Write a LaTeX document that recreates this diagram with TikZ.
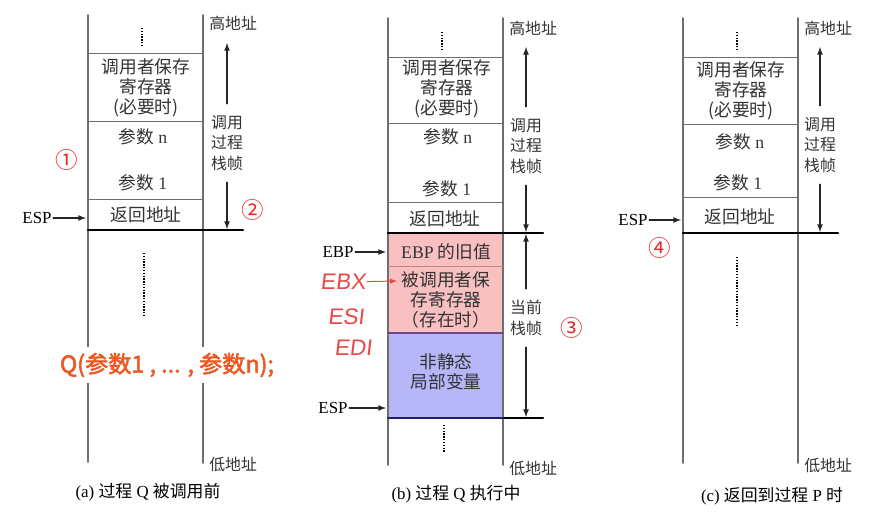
\documentclass[tikz,border=0pt]{standalone}
\usepackage{fontspec}
\setmainfont{Liberation Serif}
\newfontfamily\cjk{Noto Sans CJK SC}
\newfontfamily\cjkbold{Noto Sans CJK SC}[FakeBold=2.5]
\newfontfamily\handfont{Liberation Sans}[FakeSlant=0.12]
\usetikzlibrary{arrows}
\definecolor{framegray}{RGB}{110,110,110}
\definecolor{oldebp}{RGB}{248,192,192}
\definecolor{pinkline}{RGB}{200,130,130}
\definecolor{locvar}{RGB}{182,182,248}
\definecolor{purpline}{RGB}{110,70,140}
\definecolor{navyline}{RGB}{30,30,110}
\definecolor{qorange}{RGB}{238,88,36}
\definecolor{numred}{RGB}{228,40,40}

\begin{document}
\begin{tikzpicture}[line cap=round,line join=round,>=latex,x=0.025cm,y=-0.025cm,
  wall/.style={color=framegray,line width=1.1pt},
  cellline/.style={color=framegray,line width=0.7pt},
  thickline/.style={line width=1.8pt},
  dotline/.style={line cap=butt,line width=0.9pt,dash pattern=on 1pt off 1pt},
  arr/.style={->,line width=0.9pt,black!85},
  txt/.style={font=\cjk\fontsize{12.6}{14.2}\selectfont,inner sep=0pt,align=center,text=black!80},
  lbl/.style={font=\cjk\fontsize{11.3}{14.6}\selectfont,inner sep=0pt,align=center,text=black!80},
  frm/.style={lbl,inner xsep=0pt,inner ysep=8pt},
  reg/.style={font=\fontsize{12}{14}\selectfont,inner sep=1pt},
  circnum/.style={font=\cjk\fontsize{16}{18}\selectfont,text=numred,inner sep=0pt},
  captxt/.style={font=\fontsize{12}{14}\selectfont,inner sep=0pt},
  hand/.style={font=\handfont\fontsize{16}{18}\selectfont,text=numred!85,inner sep=1pt}]
  \useasboundingbox (0,0) rectangle (894,516);

  % (a)
  \draw [wall] (88,15) -- (88,462);
  \draw [wall] (203,15) -- (203,463);
  \draw [cellline] (88,53) -- (203,53);
  \draw [cellline] (88,121) -- (203,121);
  \draw [cellline] (88,199) -- (203,199);
  \draw [thickline] (88,230) -- (243,230);
  \draw [dotline] (142,28) -- (142,47);
  \draw [dotline] (144,253) -- (144,315);
  \node [txt] (a-save) at (146,88) {调用者保存\\寄存器\\(必要时)};
  \node [txt] (a-argn) at (143,137) {参数 {\rmfamily n}};
  \node [txt] (a-arg1) at (143,183) {参数 {\rmfamily 1}};
  \node [txt] (a-ret) at (146,215) {返回地址};
  \node [lbl,anchor=west] (a-hi) at (209,23) {高地址};
  \node [lbl,anchor=west] (a-lo) at (209,464) {低地址};
  \node [frm] (a-frame) at (227,143) {调用\\过程\\栈帧};
  \coordinate (a-up) at (227,43);
  \coordinate (a-down) at (227,229);
  \draw [arr] (a-frame) -- (a-up);
  \draw [arr] (a-frame) -- (a-down);
  \node [reg] (a-esp) at (37,218) {ESP};
  \coordinate (a-espto) at (86,218);
  \draw [arr] (a-esp) -- (a-espto);
  \node [circnum] (a-one) at (67,160) {①};
  \node [circnum] (a-two) at (253,210) {②};
  \node [font=\cjkbold\fontsize{16.5}{18}\selectfont,text=qorange,fill=white,
    inner xsep=2pt,minimum height=0.9cm] (a-call) at (167,365) {Q(参数1 , ... , 参数n);};
  \node [captxt] (a-cap) at (148,492) {(a) {\cjk 过程} Q {\cjk 被调用前}};

  % (b)
  \fill [oldebp] (388,233) rectangle (503,333);
  \fill [locvar] (388,333) rectangle (503,418);
  \draw [wall] (388,18) -- (388,465);
  \draw [wall] (503,18) -- (503,465);
  \draw [cellline] (388,57) -- (503,57);
  \draw [cellline] (388,123) -- (503,123);
  \draw [cellline] (388,202) -- (503,202);
  \draw [thickline] (388,233) -- (543,233);
  \draw [cellline,color=pinkline] (388,266) -- (503,266);
  \draw [color=purpline,line width=1pt] (388,333) -- (503,333);
  \draw [thickline] (503,418) -- (543,418);
  \draw [thickline,color=navyline] (388,418) -- (503,418);
  \draw [dotline] (442,32) -- (442,50);
  \draw [dotline] (444,425) -- (444,453);
  \node [txt] (b-save) at (447,89) {调用者保存\\寄存器\\(必要时)};
  \node [txt] (b-argn) at (448,137) {参数 {\rmfamily n}};
  \node [txt] (b-arg1) at (447,189) {参数 {\rmfamily 1}};
  \node [txt] (b-ret) at (445,219) {返回地址};
  \node [txt] (b-old) at (446,252) {{\rmfamily EBP} 的旧值};
  \node [txt] (b-callee) at (446,300) {被调用者保\\存寄存器\\（存在时）};
  \node [txt] (b-local) at (446,372) {非静态\\局部变量};
  \node [lbl,anchor=west] (b-hi) at (509,28) {高地址};
  \node [lbl,anchor=west] (b-lo) at (509,468) {低地址};
  \node [frm] (b-frame) at (526,146) {调用\\过程\\栈帧};
  \coordinate (b-up) at (526,47);
  \coordinate (b-down) at (526,232);
  \draw [arr] (b-frame) -- (b-up);
  \draw [arr] (b-frame) -- (b-down);
  \node [frm] (b-cur) at (526,318) {当前\\栈帧};
  \coordinate (b-curup) at (526,234);
  \coordinate (b-curdown) at (526,417);
  \draw [arr] (b-cur) -- (b-curup);
  \draw [arr] (b-cur) -- (b-curdown);
  \node [reg] (b-ebp) at (338,252) {EBP};
  \coordinate (b-ebpto) at (386,252);
  \draw [arr] (b-ebp) -- (b-ebpto);
  \node [reg] (b-esp) at (333,408) {ESP};
  \coordinate (b-espto) at (386,408);
  \draw [arr] (b-esp) -- (b-espto);
  \node [circnum] (b-three) at (572,328) {③};
  \node [hand] (b-ebx) at (343,282) {EBX};
  \coordinate (b-ebxto) at (397,281);
  \draw [->,color=numred!85,line width=0.7pt] (b-ebx) -- (b-ebxto);
  \node [hand] (b-esi) at (346,317) {ESI};
  \node [hand] (b-edi) at (353,348) {EDI};
  \node [captxt] (b-cap) at (456,494) {(b) {\cjk 过程} Q {\cjk 执行中}};

  % (c)
  \draw [wall] (683,18) -- (683,463);
  \draw [wall] (798,18) -- (798,463);
  \draw [cellline] (683,57) -- (798,57);
  \draw [cellline] (683,124) -- (798,124);
  \draw [cellline] (683,197) -- (798,197);
  \draw [thickline] (683,233) -- (838,233);
  \draw [dotline] (737,32) -- (737,50);
  \draw [dotline] (737,257) -- (737,327);
  \node [txt] (c-save) at (741,91) {调用者保存\\寄存器\\(必要时)};
  \node [txt] (c-argn) at (740,142) {参数 {\rmfamily n}};
  \node [txt] (c-arg1) at (738,183) {参数 {\rmfamily 1}};
  \node [txt] (c-ret) at (740,217) {返回地址};
  \node [lbl,anchor=west] (c-hi) at (804,28) {高地址};
  \node [lbl,anchor=west] (c-lo) at (804,465) {低地址};
  \node [frm] (c-frame) at (820,145) {调用\\过程\\栈帧};
  \coordinate (c-up) at (820,47);
  \coordinate (c-down) at (820,232);
  \draw [arr] (c-frame) -- (c-up);
  \draw [arr] (c-frame) -- (c-down);
  \node [reg] (c-esp) at (633,220) {ESP};
  \coordinate (c-espto) at (681,220);
  \draw [arr] (c-esp) -- (c-espto);
  \node [circnum] (c-four) at (660,248) {④};
  \node [captxt] (c-cap) at (772,496) {(c) {\cjk 返回到过程} P {\cjk 时}};
\end{tikzpicture}
\end{document}
